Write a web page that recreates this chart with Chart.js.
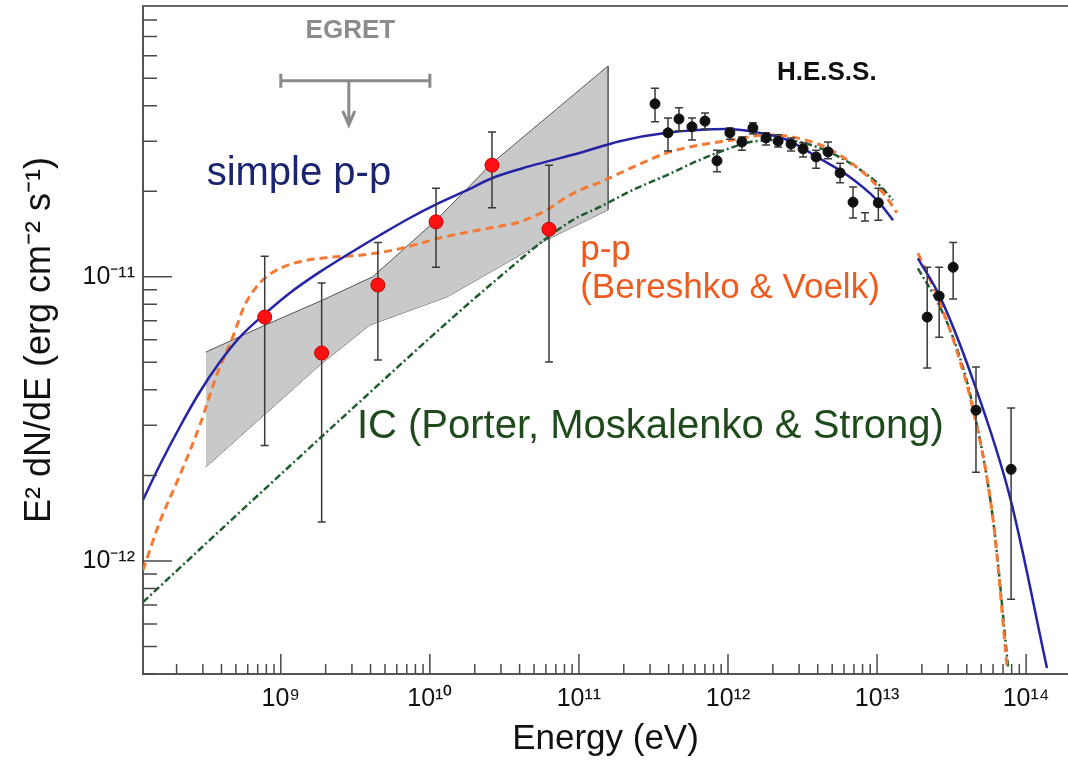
<!DOCTYPE html>
<html>
<head>
<meta charset="utf-8">
<title>Gamma-ray spectrum</title>
<script src="https://cdn.jsdelivr.net/npm/chart.js@4.4.1/dist/chart.umd.min.js"></script>
<style>
  html, body { margin: 0; padding: 0; background: #fff; }
  #wrap { width: 1068px; height: 760px; }
</style>
</head>
<body>
<div id="wrap"><canvas id="myChart" width="1068" height="760"></canvas></div>
<script>
// Data (energy in eV, E^2 dN/dE in erg cm^-2 s^-1)

// simple p-p model (null = gap in the drawn curve)
const simplePpE = [1.19e8, 1.54e8, 2.1e8, 2.86e8, 3.9e8, 5.31e8, 7.81e8, 1.15e9, 1.83e9, 2.9e9, 4.61e9, 7.34e9, 1.11e10, 1.72e10, 2.65e10, 4.69e10, 1.02e11, 1.88e11, 3.9e11, 9.85e11, 1.47e12, 2.49e12, 3.96e12, 6.29e12, 1.0e13, 1.28e13, 1.6e13, 1.88e13, 2.65e13, 4.41e13, 7.81e13, 1.38e14];
const simplePpF = [1.64e-12, 2.17e-12, 2.96e-12, 3.93e-12, 5.01e-12, 6.13e-12, 7.4e-12, 8.77e-12, 1.04e-11, 1.21e-11, 1.4e-11, 1.61e-11, 1.8e-11, 2.0e-11, 2.23e-11, 2.45e-11, 2.73e-11, 3.0e-11, 3.21e-11, 3.31e-11, 3.24e-11, 3.03e-11, 2.64e-11, 2.28e-11, 1.86e-11, 1.58e-11, null, 1.16e-11, 8.48e-12, 4.32e-12, 1.67e-12, 4.2e-13];

// p-p (Bereshko & Voelk)
const bvE = [1.19e8, 1.54e8, 2.1e8, 2.86e8, 3.72e8, 4.76e8, 5.73e8, 7.23e8, 8.44e8, 9.85e8, 1.34e9, 2.13e9, 3.39e9, 5.65e9, 8.57e9, 1.17e10, 1.85e10, 2.82e10, 4.02e10, 6.1e10, 8.05e10, 1.02e11, 1.38e11, 2.3e11, 3.9e11, 6.49e11, 1.08e12, 1.83e12, 2.73e12, 4.61e12, 7.69e12, 1.1e13, 1.36e13, 1.6e13, 1.88e13, 2.65e13, 3.5e13, 4.41e13, 6.01e13, 7.45e13];
const bvF = [9.27e-13, 1.37e-12, 2.0e-12, 3.0e-12, 4.51e-12, 6.13e-12, 7.95e-12, 9.5e-12, 1.02e-11, 1.07e-11, 1.13e-11, 1.17e-11, 1.19e-11, 1.24e-11, 1.31e-11, 1.37e-11, 1.44e-11, 1.5e-11, 1.56e-11, 1.72e-11, 1.89e-11, 2.02e-11, 2.15e-11, 2.43e-11, 2.73e-11, 2.91e-11, 3.03e-11, 3.16e-11, 3.1e-11, 2.84e-11, 2.38e-11, 1.97e-11, 1.68e-11, null, 1.21e-11, 8.07e-12, 5.3e-12, 3.4e-12, 1.39e-12, 4.23e-13];

// IC (Porter, Moskalenko & Strong)
const icE = [1.19e8, 6.19e8, 2.9e9, 1.36e10, 2.95e10, 6.1e10, 9.4e10, 1.38e11, 2.3e11, 3.9e11, 6.49e11, 1.08e12, 1.41e12, 2.34e12, 3.96e12, 6.59e12, 1.0e13, 1.28e13, 1.6e13, 1.88e13, 2.65e13, 3.5e13, 4.41e13, 6.01e13, 7.57e13];
const icF = [7.16e-13, 1.6e-12, 3.37e-12, 7.04e-12, 1.0e-11, 1.37e-11, 1.6e-11, 1.76e-11, 2.02e-11, 2.28e-11, 2.58e-11, 2.86e-11, 2.98e-11, 3.03e-11, 2.86e-11, 2.51e-11, 2.14e-11, 1.86e-11, null, 1.07e-11, 7.82e-12, 5.43e-12, 3.48e-12, 1.39e-12, 4.23e-13];

// grey butterfly band
const bandUpperE = [3.14e8, 7.57e8, 1.91e9, 4.14e9, 1.1e10, 2.61e10, 1.57e11];
const bandUpperF = [5.43e-12, 6.7e-12, 8.28e-12, 1.0e-11, 1.58e-11, 2.51e-11, 5.52e-11];
const bandLowerE = [3.14e8, 1.83e9, 3.95e9, 1.3e10, 6.1e10, 1.57e11];
const bandLowerF = [2.14e-12, 4.89e-12, 6.76e-12, 8.49e-12, 1.35e-11, 1.72e-11];

// red points with error bars
const redE = [7.8e8, 1.88e9, 4.48e9, 1.1e10, 2.61e10, 6.3e10];
const redF = [7.21e-12, 5.39e-12, 9.35e-12, 1.56e-11, 2.47e-11, 1.47e-11];
const redHi = [1.18e-11, 9.5e-12, 1.32e-11, 2.05e-11, 3.23e-11, 2.47e-11];
const redLo = [2.55e-12, 1.37e-12, 5.09e-12, 1.08e-11, 1.75e-11, 5.01e-12];

// H.E.S.S. points
const hessE = [3.24e11, 3.96e11, 4.69e11, 5.73e11, 7.01e11, 8.44e11, 1.03e12, 1.24e12, 1.47e12, 1.8e12, 2.17e12, 2.65e12, 3.19e12, 3.9e12, 4.69e12, 5.65e12, 6.9e12, 8.3e12, 1.02e13, 2.17e13, 2.61e13, 3.24e13, 4.61e13, 7.93e13];
const hessF = [4.06e-11, 3.21e-11, 3.59e-11, 3.37e-11, 3.53e-11, 2.56e-11, 3.21e-11, 2.98e-11, 3.34e-11, 3.08e-11, 3.0e-11, 2.93e-11, 2.82e-11, 2.64e-11, 2.75e-11, 2.32e-11, 1.83e-11, null, 1.82e-11, 7.21e-12, 8.55e-12, 1.08e-11, 3.39e-12, 2.1e-12];
const hessHi = [4.61e-11, 3.62e-11, 3.93e-11, 3.62e-11, 3.77e-11, 2.79e-11, 3.34e-11, 3.1e-11, 3.48e-11, 3.21e-11, 3.16e-11, 3.08e-11, 2.96e-11, 2.79e-11, 2.98e-11, 2.51e-11, 2.07e-11, 1.68e-11, 2.05e-11, 1.08e-11, 1.08e-11, 1.32e-11, 4.81e-12, 3.45e-12];
const hessLo = [3.51e-11, 2.77e-11, 3.26e-11, 3.03e-11, 3.31e-11, 2.34e-11, 3.05e-11, 2.79e-11, 3.18e-11, 2.91e-11, 2.86e-11, 2.77e-11, 2.64e-11, 2.41e-11, 2.6e-11, 2.14e-11, 1.61e-11, 1.57e-11, 1.58e-11, 4.77e-12, 6.13e-12, 8.35e-12, 2.05e-12, 7.33e-13];

// EGRET upper limit
const egretRange = [1e9, 1e10];
const egretLimit = 4.89e-11;
const egretArrowE = 2.86e9;
const egretArrowTip = 3.42e-11;

// axes
const xRange = [1.19e8, 1.91e14];
const yRange = [4.0e-13, 8.97e-11];
const xMajorTicks = [1e9, 1e10, 1e11, 1e12, 1e13, 1e14];
const yMajorTicks = [1e-12, 1e-11];
const minorSteps = [2, 3, 4, 5, 6, 7, 8, 9];

const FONT = "'Liberation Sans', Arial, Helvetica, sans-serif";
Chart.defaults.font.family = FONT;

const zip = (xs, ys) => xs.map((x, i) => ({ x: x, y: ys[i] }));

function logTicks(range) {
  const out = [];
  const lo = Math.floor(Math.log10(range[0])), hi = Math.ceil(Math.log10(range[1]));
  for (let d = lo; d <= hi; d++) {
    const base = Math.pow(10, d);
    [1].concat(minorSteps).forEach(m => {
      const v = m * base;
      if (v >= range[0] && v <= range[1]) out.push(v);
    });
  }
  return out;
}
const xTickValues = logTicks(xRange);
const yTickValues = logTicks(yRange);
const isMajor = v => Math.abs(Math.log10(v) - Math.round(Math.log10(v))) < 1e-6;

const SUP = { '0': '⁰', '1': '¹', '2': '²', '3': '³', '4': '⁴', '5': '⁵', '6': '⁶', '7': '⁷', '8': '⁸', '9': '⁹', '-': '⁻' };
const powLabel = v => '10' + String(Math.round(Math.log10(v))).split('').map(c => SUP[c]).join('');

// text labels placed at data coordinates
const notes = [
  { text: 'EGRET', x: 2.93e9, y: 6.92e-11, align: 'center', font: 'bold 26px', color: '#8c8c8c' },
  { text: 'H.E.S.S.', x: 2.13e12, y: 4.93e-11, align: 'left', font: 'bold 26px', color: '#111' },
  { text: 'simple p-p', x: 3.18e8, y: 2.1e-11, align: 'left', font: '40px', color: '#1b2470' },
  { text: 'p-p', x: 1.02e11, y: 1.145e-11, align: 'left', font: '35px', color: '#ef5a1e' },
  { text: '(Bereshko & Voelk)', x: 1.02e11, y: 8.41e-12, align: 'left', font: '35px', color: '#ef5a1e' },
  { text: 'IC (Porter, Moskalenko & Strong)', x: 3.24e9, y: 2.7e-12, align: 'left', font: '40px', color: '#1f4a1c' }
];

function drawErrorBars(ctx, chart, xs, hi, lo, cap) {
  const sx = chart.scales.x, sy = chart.scales.y;
  ctx.save();
  ctx.strokeStyle = '#3a3a3a';
  ctx.lineWidth = 1.5;
  xs.forEach((e, i) => {
    if (hi[i] == null || lo[i] == null) return;
    const px = sx.getPixelForValue(e);
    const y1 = sy.getPixelForValue(hi[i]), y2 = sy.getPixelForValue(lo[i]);
    ctx.beginPath();
    ctx.moveTo(px, y1); ctx.lineTo(px, y2);
    ctx.moveTo(px - cap, y1); ctx.lineTo(px + cap, y1);
    ctx.moveTo(px - cap, y2); ctx.lineTo(px + cap, y2);
    ctx.stroke();
  });
  ctx.restore();
}

const errorBarPlugin = {
  id: 'errorBars',
  beforeDatasetDraw(chart, args) {
    const ds = chart.data.datasets[args.index];
    if (ds.label === 'red') drawErrorBars(chart.ctx, chart, redE, redHi, redLo, 4);
    if (ds.label === 'H.E.S.S.') drawErrorBars(chart.ctx, chart, hessE, hessHi, hessLo, 4);
  }
};

const decorPlugin = {
  id: 'decor',
  afterDatasetsDraw(chart) {
    const { ctx } = chart;
    const sx = chart.scales.x, sy = chart.scales.y;
    ctx.save();

    // EGRET upper limit
    ctx.strokeStyle = '#8a8a8a';
    ctx.lineWidth = 3;
    const ex1 = sx.getPixelForValue(egretRange[0]), ex2 = sx.getPixelForValue(egretRange[1]);
    const ey = sy.getPixelForValue(egretLimit);
    const ax = sx.getPixelForValue(egretArrowE), ay = sy.getPixelForValue(egretArrowTip);
    ctx.beginPath();
    ctx.moveTo(ex1, ey); ctx.lineTo(ex2, ey);
    ctx.moveTo(ex1, ey - 7); ctx.lineTo(ex1, ey + 7);
    ctx.moveTo(ex2, ey - 7); ctx.lineTo(ex2, ey + 7);
    ctx.moveTo(ax, ey); ctx.lineTo(ax, ay);
    ctx.moveTo(ax - 6, ay - 14); ctx.lineTo(ax, ay); ctx.lineTo(ax + 6, ay - 14);
    ctx.stroke();

    // text labels
    notes.forEach(n => {
      ctx.font = n.font + ' ' + FONT;
      ctx.fillStyle = n.color;
      ctx.textAlign = n.align;
      ctx.textBaseline = 'alphabetic';
      ctx.fillText(n.text, sx.getPixelForValue(n.x), sy.getPixelForValue(n.y));
    });
    ctx.restore();
  },
  afterDraw(chart) {
    const { ctx, chartArea: a } = chart;
    const sx = chart.scales.x, sy = chart.scales.y;
    ctx.save();
    ctx.strokeStyle = '#4a4a4a';
    ctx.lineWidth = 1.5;
    ctx.beginPath();
    xTickValues.forEach(v => {
      const px = sx.getPixelForValue(v);
      const len = isMajor(v) ? 20 : 10;
      ctx.moveTo(px, a.bottom); ctx.lineTo(px, a.bottom - len);
    });
    yTickValues.forEach(v => {
      const py = sy.getPixelForValue(v);
      const len = isMajor(v) ? 29 : 14;
      ctx.moveTo(a.left, py); ctx.lineTo(a.left + len, py);
    });
    ctx.stroke();
    // top frame line
    ctx.strokeStyle = '#666';
    ctx.lineWidth = 2;
    ctx.beginPath();
    ctx.moveTo(a.left, a.top); ctx.lineTo(chart.width, a.top);
    ctx.stroke();
    ctx.restore();
  }
};

const ctx = document.getElementById('myChart');

new Chart(ctx, {
  type: 'line',
  data: {
    datasets: [
      {
        label: 'band upper',
        data: zip(bandUpperE, bandUpperF),
        borderColor: '#555',
        borderWidth: 1,
        backgroundColor: '#c9c9c9',
        fill: '+1',
        pointRadius: 0,
        tension: 0,
        order: 10
      },
      {
        label: 'band lower',
        data: zip(bandLowerE, bandLowerF),
        borderColor: '#555',
        borderWidth: 1,
        fill: false,
        pointRadius: 0,
        tension: 0,
        order: 11
      },
      {
        label: 'band edge',
        data: [{ x: bandUpperE[bandUpperE.length - 1], y: bandUpperF[bandUpperF.length - 1] },
               { x: bandLowerE[bandLowerE.length - 1], y: bandLowerF[bandLowerF.length - 1] }],
        borderColor: '#555',
        borderWidth: 1.5,
        pointRadius: 0,
        fill: false,
        order: 9
      },
      {
        label: 'IC (Porter, Moskalenko & Strong)',
        data: zip(icE, icF),
        borderColor: '#1f5c2e',
        borderWidth: 2.5,
        borderDash: [7, 3, 2, 3],
        pointRadius: 0,
        fill: false,
        cubicInterpolationMode: 'monotone',
        spanGaps: false,
        order: 5
      },
      {
        label: 'p-p (Bereshko & Voelk)',
        data: zip(bvE, bvF),
        borderColor: '#f47a34',
        borderWidth: 3,
        borderDash: [8, 5],
        pointRadius: 0,
        fill: false,
        cubicInterpolationMode: 'monotone',
        spanGaps: false,
        order: 4
      },
      {
        label: 'simple p-p',
        data: zip(simplePpE, simplePpF),
        borderColor: '#2424a4',
        borderWidth: 2.5,
        pointRadius: 0,
        fill: false,
        cubicInterpolationMode: 'monotone',
        spanGaps: false,
        order: 3
      },
      {
        label: 'red',
        data: zip(redE, redF),
        showLine: false,
        pointRadius: 7,
        pointBackgroundColor: '#ff1111',
        pointBorderColor: '#c40000',
        pointBorderWidth: 1,
        order: 2
      },
      {
        label: 'H.E.S.S.',
        data: zip(hessE, hessF),
        showLine: false,
        pointRadius: 5,
        pointBackgroundColor: '#111',
        pointBorderColor: '#111',
        pointBorderWidth: 1,
        order: 1
      }
    ]
  },
  options: {
    responsive: false,
    devicePixelRatio: 1,
    animation: false,
    layout: { autoPadding: false, padding: { top: 6, right: 0, bottom: 0, left: 0 } },
    plugins: {
      legend: { display: false },
      tooltip: { enabled: false }
    },
    scales: {
      x: {
        type: 'logarithmic',
        position: 'bottom',
        min: xRange[0],
        max: xRange[1],
        afterBuildTicks: s => { s.ticks = xTickValues.map(v => ({ value: v })); },
        afterFit: s => { s.height = 86; s.paddingLeft = 0; s.paddingRight = 0; },
        grid: { display: false, drawTicks: false },
        border: { display: true, color: '#555', width: 2 },
        ticks: {
          autoSkip: false,
          maxRotation: 0,
          padding: 10,
          color: '#111',
          font: { size: 25 },
          callback: v => (xMajorTicks.includes(v) ? powLabel(v) : '')
        },
        title: {
          display: true,
          text: 'Energy (eV)',
          color: '#111',
          font: { size: 35 },
          padding: { top: 0, bottom: 0 }
        }
      },
      y: {
        type: 'logarithmic',
        position: 'left',
        min: yRange[0],
        max: yRange[1],
        afterBuildTicks: s => { s.ticks = yTickValues.map(v => ({ value: v })); },
        afterFit: s => { s.width = 143; s.paddingTop = 0; s.paddingBottom = 0; },
        grid: { display: false, drawTicks: false },
        border: { display: true, color: '#555', width: 2 },
        ticks: {
          autoSkip: false,
          padding: 8,
          color: '#111',
          font: { size: 25 },
          callback: v => (yMajorTicks.includes(v) ? powLabel(v) : '')
        },
        title: {
          display: true,
          text: 'E² dN/dE (erg cm⁻² s⁻¹)',
          color: '#111',
          font: { size: 36 },
          padding: { top: 18, bottom: 0 }
        }
      }
    }
  },
  plugins: [errorBarPlugin, decorPlugin]
});
</script>
</body>
</html>
